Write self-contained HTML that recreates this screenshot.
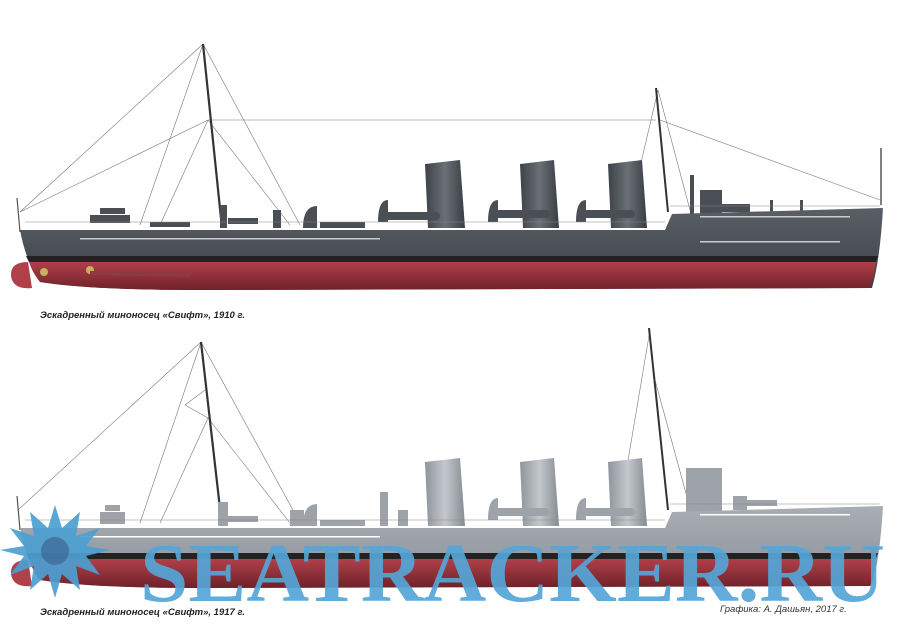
<!DOCTYPE html>
<html><head><meta charset="utf-8"><style>
html,body{margin:0;padding:0;background:#fff;width:900px;height:638px;overflow:hidden}
svg{display:block}
</style></head><body>
<svg width="900" height="638" viewBox="0 0 900 638" xmlns="http://www.w3.org/2000/svg">
<defs>
<linearGradient id="red" x1="0" y1="0" x2="0" y2="1"><stop offset="0" stop-color="#b0404a"/><stop offset="1" stop-color="#6e2128"/></linearGradient>
<linearGradient id="dg" x1="0" y1="0" x2="0" y2="1"><stop offset="0" stop-color="#5a5f66"/><stop offset="1" stop-color="#3c4046"/></linearGradient>
<linearGradient id="lg" x1="0" y1="0" x2="0" y2="1"><stop offset="0" stop-color="#a9aeb5"/><stop offset="1" stop-color="#8a9098"/></linearGradient>
<linearGradient id="fd" x1="0" y1="0" x2="1" y2="0"><stop offset="0" stop-color="#3e4248"/><stop offset=".5" stop-color="#6a6f76"/><stop offset="1" stop-color="#3a3e44"/></linearGradient>
<linearGradient id="fl" x1="0" y1="0" x2="1" y2="0"><stop offset="0" stop-color="#8e949b"/><stop offset=".5" stop-color="#c4c8cd"/><stop offset="1" stop-color="#868c93"/></linearGradient>
</defs>

<!-- ===== TOP SHIP ===== -->
<g stroke="#777" stroke-width="0.6" fill="none">
<line x1="203" y1="44" x2="20" y2="212"/>
<line x1="208" y1="120" x2="20" y2="212"/>
<line x1="203" y1="44" x2="140" y2="225"/>
<line x1="203" y1="44" x2="300" y2="225"/>
<line x1="208" y1="120" x2="656" y2="120"/>
<line x1="208" y1="120" x2="160" y2="225"/>
<line x1="208" y1="120" x2="290" y2="225"/>
<line x1="660" y1="120" x2="880" y2="200"/>
<line x1="658" y1="90" x2="630" y2="210"/>
<line x1="658" y1="90" x2="690" y2="210"/>
</g>
<line x1="203" y1="44" x2="222" y2="228" stroke="#333" stroke-width="2.2"/>
<line x1="656" y1="88" x2="668" y2="212" stroke="#333" stroke-width="2"/>
<line x1="881" y1="148" x2="881" y2="205" stroke="#555" stroke-width="1.5"/>
<line x1="17" y1="198" x2="20" y2="232" stroke="#555" stroke-width="1.2"/>
<path d="M425 164 L460 160 L465 228 L428 228 Z" fill="url(#fd)"/>
<path d="M520 164 L554 160 L559 228 L523 228 Z" fill="url(#fd)"/>
<path d="M608 164 L642 160 L647 228 L611 228 Z" fill="url(#fd)"/>
<g fill="#4a4e55">
<rect x="380" y="212" width="60" height="8" rx="4"/>
<rect x="490" y="210" width="60" height="8" rx="4"/>
<rect x="580" y="210" width="55" height="8" rx="4"/>
<path d="M378 222 q0-22 10-22 v22z"/><path d="M488 222 q0-22 10-22 v22z"/><path d="M576 222 q0-22 10-22 v22z"/>
<path d="M303 228 q0-22 14-22 v22z"/><path d="M273 228 v-18 h8 v18z"/>
<rect x="320" y="222" width="45" height="6"/>
<rect x="90" y="215" width="40" height="8"/><rect x="100" y="208" width="25" height="6"/>
<rect x="220" y="205" width="7" height="23"/><rect x="228" y="218" width="30" height="6"/>
<rect x="150" y="222" width="40" height="5"/>
<rect x="700" y="190" width="22" height="25"/><rect x="690" y="175" width="4" height="40"/>
<rect x="720" y="204" width="30" height="8"/>
<rect x="770" y="200" width="3" height="12"/><rect x="800" y="200" width="3" height="12"/>
</g>
<line x1="25" y1="222" x2="665" y2="222" stroke="#888" stroke-width="0.6"/>
<line x1="670" y1="206" x2="880" y2="206" stroke="#888" stroke-width="0.6"/>
<path d="M20 230 L665 230 L672 214 L883 208 Q880 260 872 288 L200 290 Q90 290 40 282 Q26 262 20 230 Z" fill="url(#dg)"/>
<path d="M26 256 L878 256 L876 262 L29 262 Z" fill="#222"/>
<path d="M29 262 L876 262 Q874 278 870 288 L200 290 Q90 290 40 282 Q32 272 29 262 Z" fill="url(#red)"/>
<path d="M28 262 Q10 262 11 276 Q13 290 32 288 Z" fill="#b0404a"/>
<g fill="#c8b060"><circle cx="44" cy="272" r="4"/><circle cx="90" cy="270" r="4"/></g>
<path d="M90 271 L190 273 L190 277 L90 275Z" fill="#8e3a40"/>
<g fill="#ccc"><rect x="80" y="238" width="300" height="1.5"/><rect x="700" y="216" width="150" height="1.5"/><rect x="700" y="241" width="140" height="1.5"/></g>
<text x="40" y="318" font-family="Liberation Sans, sans-serif" font-size="9.5" font-weight="bold" font-style="italic" fill="#222">Эскадренный миноносец «Свифт», 1910 г.</text>

<!-- ===== BOTTOM SHIP ===== -->
<g stroke="#777" stroke-width="0.6" fill="none">
<line x1="201" y1="342" x2="18" y2="510"/>
<line x1="201" y1="342" x2="140" y2="523"/>
<line x1="201" y1="342" x2="300" y2="523"/>
<line x1="208" y1="418" x2="160" y2="523"/>
<line x1="208" y1="418" x2="290" y2="523"/>
<line x1="185" y1="405" x2="208" y2="418"/><line x1="185" y1="405" x2="205" y2="390"/>
<line x1="650" y1="330" x2="620" y2="508"/>
<line x1="655" y1="380" x2="690" y2="508"/>
</g>
<line x1="201" y1="342" x2="222" y2="526" stroke="#333" stroke-width="2.2"/>
<line x1="649" y1="328" x2="668" y2="510" stroke="#333" stroke-width="2"/>
<line x1="17" y1="496" x2="20" y2="530" stroke="#555" stroke-width="1.2"/>
<path d="M425 462 L460 458 L465 526 L428 526 Z" fill="url(#fl)"/>
<path d="M520 462 L554 458 L559 526 L523 526 Z" fill="url(#fl)"/>
<path d="M608 462 L642 458 L647 526 L611 526 Z" fill="url(#fl)"/>
<g fill="#9ea3aa">
<rect x="490" y="508" width="60" height="8" rx="4"/>
<rect x="580" y="508" width="55" height="8" rx="4"/>
<path d="M488 520 q0-22 10-22 v22z"/><path d="M576 520 q0-22 10-22 v22z"/>
<path d="M303 526 q0-22 14-22 v22z"/><path d="M290 526 v-16 h14 v16z"/>
<rect x="320" y="520" width="45" height="6"/>
<rect x="100" y="512" width="25" height="12"/><rect x="105" y="505" width="15" height="6"/>
<rect x="218" y="502" width="10" height="24"/><rect x="228" y="516" width="30" height="6"/>
<rect x="380" y="492" width="8" height="34"/><rect x="398" y="510" width="10" height="16"/>
<rect x="686" y="468" width="36" height="45"/>
<rect x="733" y="496" width="14" height="14"/><rect x="747" y="500" width="30" height="6"/>
</g>
<line x1="25" y1="520" x2="665" y2="520" stroke="#888" stroke-width="0.6"/>
<line x1="670" y1="504" x2="880" y2="504" stroke="#888" stroke-width="0.6"/>
<path d="M20 528 L665 528 L672 512 L883 506 Q880 558 872 586 L200 588 Q90 588 40 580 Q26 560 20 528 Z" fill="url(#lg)"/>
<path d="M26 553 L878 553 L876 559 L29 559 Z" fill="#222"/>
<path d="M29 559 L876 559 Q874 576 870 586 L200 588 Q90 588 40 580 Q32 570 29 559 Z" fill="url(#red)"/>
<path d="M28 560 Q10 560 11 574 Q13 588 32 586 Z" fill="#b0404a"/>
<g fill="#fff"><rect x="80" y="536" width="300" height="1.5"/><rect x="700" y="514" width="150" height="1.5"/></g>

<g fill="#4d9fd2" opacity="0.92">
<polygon points="55,505 62,528 80,512 76,536 100,528 86,546 110,550 86,556 100,575 76,566 80,590 62,574 55,598 48,574 30,590 34,566 10,575 24,556 0,550 24,546 10,528 34,536 30,512 48,528"/>
<circle cx="55" cy="551" r="24"/>
</g>
<circle cx="55" cy="551" r="14" fill="#3a5d8a" opacity="0.6"/>
<text x="140" y="601" font-family="Liberation Serif, serif" font-size="84" font-weight="bold" fill="#55a6d8" opacity="0.92" textLength="745" lengthAdjust="spacingAndGlyphs">SEATRACKER.RU</text>

<text x="40" y="615" font-family="Liberation Sans, sans-serif" font-size="9.5" font-weight="bold" font-style="italic" fill="#222">Эскадренный миноносец «Свифт», 1917 г.</text>
<text x="720" y="612" font-family="Liberation Sans, sans-serif" font-size="9.5" font-style="italic" fill="#333">Графика: А. Дашьян, 2017 г.</text>
</svg>
</body></html>
